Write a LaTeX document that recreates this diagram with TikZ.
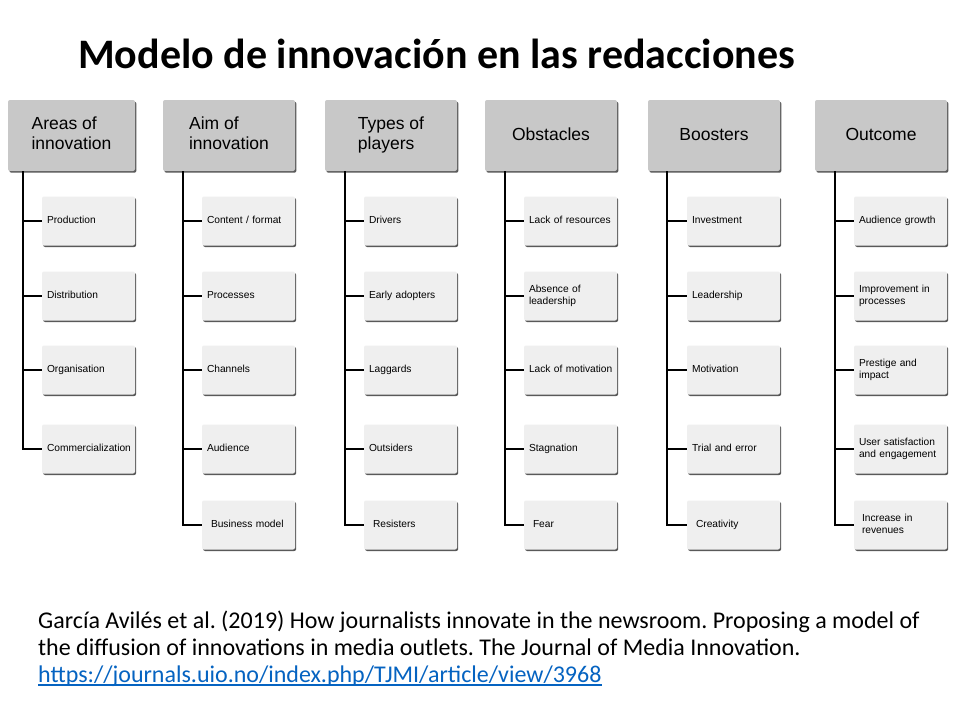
\documentclass[tikz,border=0pt]{standalone}
\usepackage{fontspec}
\setmainfont{Liberation Sans}
\newfontfamily\calib{Carlito}
\usetikzlibrary{shadows}
\definecolor{hdrgray}{HTML}{C8C8C8}
\definecolor{kidgray}{HTML}{EFEFEF}
\definecolor{linkblue}{HTML}{0563C1}
\newcommand{\up}[1]{\raisebox{2.5pt}{#1}}
\newcommand{\twol}[2]{\raisebox{2.5pt}{\begin{tabular}{@{}l@{}}#1\\#2\end{tabular}}}
\frenchspacing
\begin{document}
\begin{tikzpicture}[x=1pt,y=-1pt,
  hdr/.style={rectangle, rounded corners=2pt, fill=hdrgray, minimum height=71pt,
    inner sep=0pt, align=left, font=\fontsize{17.5}{20}\selectfont,
    drop shadow={shadow xshift=1.4pt, shadow yshift=-1.7pt, fill=black!65, opacity=1}},
  kid/.style={rectangle, rounded corners=2pt, fill=kidgray, minimum height=49pt,
    inner xsep=5pt, inner ysep=0pt, text width=83pt, align=left,
    font=\fontsize{10.2}{12}\selectfont,
    execute at begin node={\hyphenpenalty=10000\exhyphenpenalty=10000\strut},
    execute at end node={\strut},
    drop shadow={shadow xshift=1.2pt, shadow yshift=-1.5pt, fill=black!65, opacity=1}},
  kidlast/.style={kid, inner xsep=9pt, text width=75pt},
  conn/.style={draw=black, line width=2.6pt}]
\useasboundingbox (0,0) rectangle (960,720);
\fill[white] (0,0) rectangle (960,720);

% title
\node[anchor=base west, inner sep=0pt, font=\calib\bfseries\fontsize{42}{46}\selectfont] (title) at (78,68) {Modelo de innovación en las redacciones};

% headers
\node[hdr, minimum width=127pt] (h1) at (71.5,135.5) {\twol{Areas of}{innovation}};
\node[hdr, minimum width=132pt] (h2) at (229,135.5) {\twol{Aim of}{innovation}};
\node[hdr, minimum width=132pt] (h3) at (391,135.5) {\twol{Types of}{players}};
\node[hdr, minimum width=132pt] (h4) at (551,135.5) {\up{Obstacles}};
\node[hdr, minimum width=132pt] (h5) at (714,135.5) {\up{Boosters}};
\node[hdr, minimum width=132pt] (h6) at (881,135.5) {\up{Outcome}};

% trunk tops
\coordinate (t1) at (23,171);
\coordinate (t2) at (183,171);
\coordinate (t3) at (345,171);
\coordinate (t4) at (505,171);
\coordinate (t5) at (667,171);
\coordinate (t6) at (835,171);

% column 1
\node[kid] (c11) at (88.5,221) {Production};
\node[kid] (c12) at (88.5,296) {Distribution};
\node[kid] (c13) at (88.5,370) {Organisation};
\node[kid] (c14) at (88.5,449) {\mbox{Commercialization}};
% column 2
\node[kid] (c21) at (248.5,221) {Content / format};
\node[kid] (c22) at (248.5,296) {Processes};
\node[kid] (c23) at (248.5,370) {Channels};
\node[kid] (c24) at (248.5,449) {Audience};
\node[kidlast] (c25) at (248.5,525) {Business model};
% column 3
\node[kid] (c31) at (410.5,221) {Drivers};
\node[kid] (c32) at (410.5,296) {Early adopters};
\node[kid] (c33) at (410.5,370) {Laggards};
\node[kid] (c34) at (410.5,449) {Outsiders};
\node[kidlast] (c35) at (410.5,525) {Resisters};
% column 4
\node[kid] (c41) at (570.5,221) {\mbox{Lack of resources}};
\node[kid] (c42) at (570.5,296) {Absence of\\leadership};
\node[kid] (c43) at (570.5,370) {\mbox{Lack of motivation}};
\node[kid] (c44) at (570.5,449) {Stagnation};
\node[kidlast] (c45) at (570.5,525) {Fear};
% column 5
\node[kid] (c51) at (733.5,221) {Investment};
\node[kid] (c52) at (733.5,296) {Leadership};
\node[kid] (c53) at (733.5,370) {Motivation};
\node[kid] (c54) at (733.5,449) {Trial and error};
\node[kidlast] (c55) at (733.5,525) {Creativity};
% column 6
\node[kid] (c61) at (900.5,221) {Audience growth};
\node[kid] (c62) at (900.5,296) {Improvement in\\processes};
\node[kid] (c63) at (900.5,370) {Prestige and\\impact};
\node[kid] (c64) at (900.5,449) {User satisfaction\\and engagement};
\node[kid, inner xsep=8pt, text width=77pt] (c65) at (900.5,525) {Increase in\\revenues};

% connectors
\draw[conn] (t1) |- (c14.west);
\foreach \r in {1,2,3} \draw[conn] (t1 |- c1\r.west) -- (c1\r.west);
\foreach \c in {2,...,6} {
  \draw[conn] (t\c) |- (c\c5.west);
  \foreach \r in {1,2,3,4} \draw[conn] (t\c |- c\c\r.west) -- (c\c\r.west);
}

% citation
\tikzset{cite/.style={anchor=base west, inner sep=0pt, font=\calib\fontsize{24}{27}\selectfont}}
\node[cite] (cit1) at (38,628) {García Avilés et al. (2019) How journalists innovate in the newsroom. Proposing a model of};
\node[cite] (cit2) at (38,655) {the diffusion of innovations in media outlets. The Journal of Media Innovation.};
\node[cite, text=linkblue] (cit3) at (38,682) {https://journals.uio.no/index.php/TJMI/article/view/3968};
\draw[linkblue, line width=1.2pt] ([yshift=-3pt]cit3.base west) -- ([yshift=-3pt]cit3.base east);
\end{tikzpicture}
\end{document}
